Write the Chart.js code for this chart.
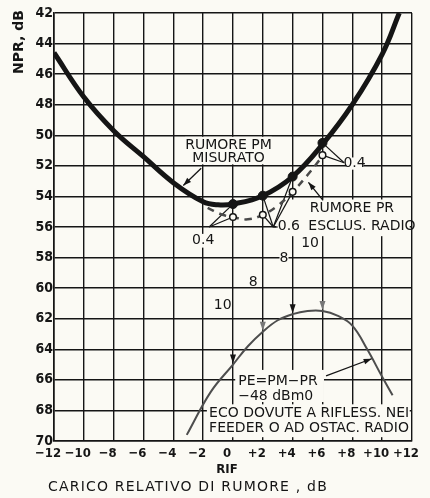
<!DOCTYPE html>
<html lang="it">
<head>
<meta charset="UTF-8">
<title>NPR e carico relativo di rumore</title>
<script src="https://cdn.jsdelivr.net/npm/chart.js"></script>
<style>
  body { margin: 0; background: #fbfaf4; }
  #wrap { width: 430px; height: 498px; }
</style>
</head>
<body>
<div id="wrap"><canvas id="npr"></canvas></div>
<script>
// tick (valori e scritte)
const xTickValues = [-12, -10, -8, -6, -4, -2, 0, 2, 4, 6, 8, 10, 12];
const xTickLabels = ['−12', '−10', '−8', '−6', '−4', '−2', '0', '+2', '+4', '+6', '+8', '+10', '+12'];
const xRefLabel = 'RIF';
const yTickValues = [42, 44, 46, 48, 50, 52, 54, 56, 58, 60, 62, 64, 66, 68, 70];
const yTickLabels = ['42', '44', '46', '48', '50', '52', '54', '56', '58', '60', '62', '64', '66', '68', '70'];
const xTitle = 'CARICO RELATIVO DI RUMORE , dB';
const yTitle = 'NPR, dB';

// rumore PM misurato (curva spessa)
const pmX = [-12, -10, -8, -6, -4, -2, -1, 0, 2, 4, 6, 8, 10, 11.15];
const pmY = [44.6, 47.5, 49.7, 51.4, 53.1, 54.35, 54.55, 54.5, 53.95, 52.7, 50.6, 48.0, 44.7, 42.0];
const pmDotX = [0, 2, 4, 6];
const pmDotY = [54.5, 53.95, 52.7, 50.5];

// rumore PR escluso radio (tratteggiata)
const prX = [-1.7, -0.7, 0, 1, 2, 3, 4, 5, 6.05];
const prY = [54.75, 55.2, 55.35, 55.5, 55.2, 54.6, 53.7, 52.6, 51.3];
const prDotX = [0, 2, 4, 6];
const prDotY = [55.35, 55.2, 53.7, 51.3];

// PE = PM - PR
const peX = [-3.1, -1.5, 0, 1, 2, 3, 4, 5, 6, 7, 8, 9, 10, 10.7];
const peY = [69.6, 66.8, 65.0, 63.8, 62.85, 62.1, 61.7, 61.5, 61.5, 61.8, 62.45, 64.0, 65.8, 67.0];
const peArrowX = [0, 2, 4, 6];

const INK = '#151515';
const PAPER = '#fbfaf4';
const FONT = '"DejaVu Sans", sans-serif';
const TICK_FONT = '"DejaVu Sans Condensed", "DejaVu Sans", sans-serif';

// zone dove la griglia stampata e' interrotta dalle scritte
const blanks = [
  [-3.2, 50.1, 2.6, 51.9],
  [2.9, 54.2, 11.85, 56.6],
  [7.6, 51.45, 8.75, 52.25],
  [-2.6, 56.45, -1.4, 57.35],
  [3.12, 57.7, 3.72, 58.45],
  [0.15, 65.35, 6.1, 67.45],
  [-1.75, 67.6, 11.85, 69.75]
];

const notes = [
  { t: 'RUMORE PM', x: -0.3, y: 50.66, align: 'center' },
  { t: 'MISURATO', x: -0.3, y: 51.5, align: 'center' },
  { t: 'RUMORE PR', x: 5.15, y: 54.8, align: 'left' },
  { t: 'ESCLUS. RADIO', x: 5.05, y: 55.97, align: 'left' },
  { t: '0.6', x: 3.0, y: 55.97, align: 'left' },
  { t: '0.4', x: 8.15, y: 51.84, align: 'center' },
  { t: '0.4', x: -2.0, y: 56.89, align: 'center' },
  { t: '10', x: 5.17, y: 57.1, align: 'center' },
  { t: '8', x: 3.42, y: 58.07, align: 'center' },
  { t: '8', x: 1.35, y: 59.62, align: 'center' },
  { t: '10', x: -0.69, y: 61.15, align: 'center' },
  { t: 'PE=PM−PR', x: 0.35, y: 66.07, align: 'left' },
  { t: '−48 dBm0', x: 0.35, y: 67.05, align: 'left' },
  { t: 'ECO DOVUTE A RIFLESS. NEI', x: -1.6, y: 68.16, align: 'left' },
  { t: 'FEEDER O AD OSTAC. RADIO', x: -1.6, y: 69.2, align: 'left' }
];

// linee di richiamo dei parametri 0.4 / 0.6
const leaders = [
  { from: [-1.6, 56.0], to: [[0, 54.5], [0, 55.35]] },
  { from: [2.7, 56.0], to: [[2, 53.95], [2, 55.2], [4, 52.7], [4, 53.7], [3.0, 56.0]] },
  { from: [7.45, 51.8], to: [[6, 50.5], [6, 51.3]] }
];

const pointers = [
  { from: [-2.13, 52.16], to: [-3.33, 53.28] },
  { from: [6.04, 54.26], to: [5.06, 53.08] },
  { from: [6.24, 65.74], to: [9.3, 64.62] }
];

const toPts = (xs, ys) => xs.map((x, i) => ({ x: x, y: ys[i] }));

function at(chart, x, y) {
  return [chart.scales.x.getPixelForValue(x), chart.scales.y.getPixelForValue(y)];
}

function drawArrow(ctx, a, b, color) {
  ctx.strokeStyle = color;
  ctx.fillStyle = color;
  ctx.lineWidth = 1.3;
  ctx.beginPath();
  ctx.moveTo(a[0], a[1]);
  ctx.lineTo(b[0], b[1]);
  ctx.stroke();
  const ang = Math.atan2(b[1] - a[1], b[0] - a[0]);
  const L = 8, W = 2.8;
  ctx.beginPath();
  ctx.moveTo(b[0], b[1]);
  ctx.lineTo(b[0] - L * Math.cos(ang) + W * Math.sin(ang), b[1] - L * Math.sin(ang) - W * Math.cos(ang));
  ctx.lineTo(b[0] - L * Math.cos(ang) - W * Math.sin(ang), b[1] - L * Math.sin(ang) + W * Math.cos(ang));
  ctx.closePath();
  ctx.fill();
}

const notesPlugin = {
  id: 'notes',
  beforeDraw(chart) {
    const ctx = chart.ctx;
    ctx.save();
    ctx.fillStyle = PAPER;
    ctx.fillRect(0, 0, chart.width, chart.height);
    ctx.restore();
  },
  beforeDatasetsDraw(chart) {
    const ctx = chart.ctx;
    ctx.save();
    ctx.fillStyle = PAPER;
    blanks.forEach(b => {
      const p1 = at(chart, b[0], b[1]);
      const p2 = at(chart, b[2], b[3]);
      ctx.fillRect(p1[0], p1[1], p2[0] - p1[0], p2[1] - p1[1]);
    });
    ctx.strokeStyle = INK;
    ctx.lineWidth = 1.2;
    leaders.forEach(l => {
      const a = at(chart, l.from[0], l.from[1]);
      l.to.forEach(t => {
        const b = at(chart, t[0], t[1]);
        ctx.beginPath();
        ctx.moveTo(a[0], a[1]);
        ctx.lineTo(b[0], b[1]);
        ctx.stroke();
      });
    });
    ctx.restore();
  },
  afterDatasetsDraw(chart) {
    const ctx = chart.ctx;
    ctx.save();
    pointers.forEach(p => drawArrow(ctx, at(chart, p.from[0], p.from[1]), at(chart, p.to[0], p.to[1]), INK));

    // frecce verticali sulla curva PE
    peArrowX.forEach((x, i) => {
      const p = at(chart, x, peY[peX.indexOf(x)]);
      ctx.fillStyle = i % 2 ? '#777' : INK;
      ctx.beginPath();
      ctx.moveTo(p[0], p[1] - 1);
      ctx.lineTo(p[0] - 3, p[1] - 10);
      ctx.lineTo(p[0] + 3, p[1] - 10);
      ctx.closePath();
      ctx.fill();
    });

    ctx.fillStyle = INK;
    ctx.font = '14px ' + FONT;
    ctx.textBaseline = 'middle';
    notes.forEach(n => {
      const p = at(chart, n.x, n.y);
      ctx.textAlign = n.align;
      ctx.fillText(n.t, p[0], p[1]);
    });
    ctx.restore();
  },
  afterDraw(chart) {
    // titoli degli assi
    const ctx = chart.ctx;
    const area = chart.chartArea;
    ctx.save();
    ctx.fillStyle = INK;
    ctx.textBaseline = 'middle';
    ctx.font = '14px ' + FONT;
    ctx.letterSpacing = '1.2px';
    ctx.textAlign = 'left';
    ctx.fillText(xTitle, area.left - 6, chart.height - 11);
    ctx.letterSpacing = '0px';
    ctx.font = 'bold 14px ' + FONT;
    ctx.translate(19, area.top - 3);
    ctx.rotate(-Math.PI / 2);
    ctx.textAlign = 'right';
    ctx.fillText(yTitle, 0, 0);
    ctx.restore();
  }
};

new Chart(document.getElementById('npr'), {
  type: 'line',
  data: {
    datasets: [
      {
        type: 'scatter', label: 'PM', data: toPts(pmDotX, pmDotY),
        pointRadius: 4.5, pointBackgroundColor: INK, pointBorderColor: INK
      },
      {
        type: 'scatter', label: 'PR', data: toPts(prDotX, prDotY),
        pointRadius: 3.3, pointBackgroundColor: PAPER, pointBorderColor: INK, pointBorderWidth: 1.5
      },
      {
        label: 'Rumore PM misurato', data: toPts(pmX, pmY),
        borderColor: INK, borderWidth: 5, pointRadius: 0, tension: 0.4, clip: 0
      },
      {
        label: 'Rumore PR esclus. radio', data: toPts(prX, prY),
        borderColor: '#4a4a4a', borderWidth: 2.5, borderDash: [7, 6], pointRadius: 0, tension: 0.4
      },
      {
        label: 'PE = PM - PR', data: toPts(peX, peY),
        borderColor: '#4d4d4d', borderWidth: 2, pointRadius: 0, tension: 0.4, clip: 0
      }
    ]
  },
  options: {
    responsive: true,
    maintainAspectRatio: false,
    animation: false,
    layout: { padding: { top: 13, right: 9, left: 0, bottom: 0 } },
    plugins: {
      legend: { display: false },
      tooltip: { enabled: false }
    },
    scales: {
      x: {
        type: 'linear',
        min: -12, max: 12,
        afterFit: s => { s.height = 57; },
        grid: { color: INK, lineWidth: 1.4, drawTicks: false },
        border: { color: INK, width: 1.6 },
        ticks: {
          stepSize: 2,
          padding: 5,
          labelOffset: -6,
          color: INK,
          font: { family: TICK_FONT, size: 13, weight: 'bold' },
          maxRotation: 0,
          autoSkip: false,
          callback: v => {
            const lab = xTickLabels[xTickValues.indexOf(v)];
            return v === 0 ? [lab, xRefLabel] : lab;
          }
        }
      },
      y: {
        min: 42, max: 70,
        reverse: true,
        afterFit: s => { s.width = 54; },
        grid: { color: INK, lineWidth: 1.4, drawTicks: false },
        border: { color: INK, width: 1.6 },
        ticks: {
          stepSize: 2,
          padding: 1,
          color: INK,
          font: { family: TICK_FONT, size: 14, weight: 'bold' },
          callback: v => yTickLabels[yTickValues.indexOf(v)]
        }
      }
    }
  },
  plugins: [notesPlugin]
});
</script>
</body>
</html>
